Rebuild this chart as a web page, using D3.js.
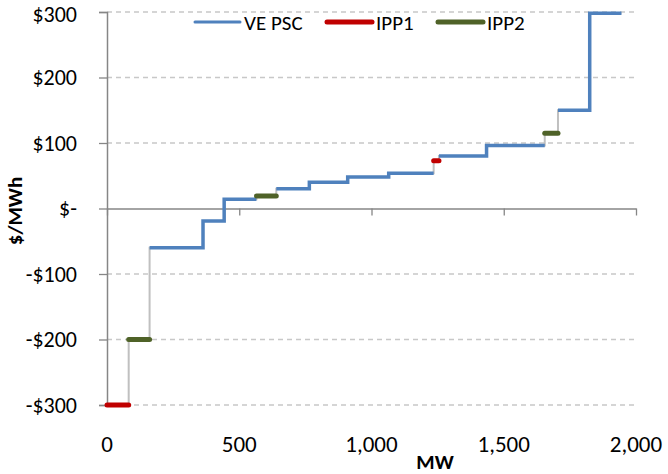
<!DOCTYPE html>
<html>
<head>
<meta charset="utf-8">
<script src="https://cdn.jsdelivr.net/npm/d3@7"></script>
<style>
  html, body { margin: 0; padding: 0; background: #fff; }
  svg { display: block; font-family: Calibri, Carlito, "Open Sans", sans-serif; }
</style>
</head>
<body>
<svg id="chart" width="668" height="474"></svg>
<script>
// Supply blocks in merit order: owner, cumulative MW at block end, offer price ($/MWh)
const owners = ["VE PSC", "IPP1", "IPP2"];
const ownerColors = ["#4f81bd", "#c00000", "#4f6228"];
const blockOwner = ["IPP1", "IPP2", "VE PSC", "VE PSC", "VE PSC", "IPP2", "VE PSC", "VE PSC",
                    "VE PSC", "VE PSC", "IPP1", "VE PSC", "VE PSC", "IPP2", "VE PSC", "VE PSC"];
const blockEndMW = [82, 161, 363, 443, 565, 640, 765, 910, 1065, 1235, 1255, 1435, 1655, 1705, 1825, 1945];
const blockPrice = [-300, -200, -60, -19, 14, 19, 30, 40, 48, 54, 73, 80, 96, 115, 150, 298];

const xTicks = [0, 500, 1000, 1500, 2000];
const yTicks = [-300, -200, -100, 0, 100, 200, 300];
const xTickLabels = ["0", "500", "1,000", "1,500", "2,000"];
const yTickLabels = ["-$300", "-$200", "-$100", "$-", "$100", "$200", "$300"];

const svg = d3.select("#chart");
const plot = { left: 107, right: 636, top: 12, bottom: 405 };

const x = d3.scaleLinear().domain([0, 2000]).range([plot.left, plot.right]);
const y = d3.scaleLinear().domain([-300, 300]).range([plot.bottom, plot.top]);

const blocks = blockEndMW.map((end, i) => ({
  owner: blockOwner[i],
  start: i === 0 ? 0 : blockEndMW[i - 1],
  end: end,
  price: blockPrice[i]
}));

// Dashed horizontal gridlines
svg.append("g")
  .selectAll("line")
  .data(yTicks.filter(v => v !== 0))
  .join("line")
  .attr("x1", plot.left).attr("x2", plot.right)
  .attr("y1", d => y(d)).attr("y2", d => y(d))
  .attr("stroke", "#c8c8c8")
  .attr("stroke-width", 1.3)
  .attr("stroke-dasharray", "5,4");

// Y axis (left)
const yAxis = svg.append("g")
  .attr("transform", `translate(${plot.left},0)`)
  .call(d3.axisLeft(y).tickValues(yTicks).tickFormat((d, i) => yTickLabels[i]).tickSize(8).tickPadding(22));
yAxis.select(".domain").attr("stroke", "#868686").attr("stroke-width", 1.5);
yAxis.selectAll(".tick line").attr("stroke", "#868686").attr("stroke-width", 1.3);
yAxis.selectAll(".tick text")
  .attr("fill", "#000").attr("font-size", 22)
  .attr("font-family", "Calibri, Carlito, 'Open Sans', sans-serif");
// keep the topmost label inside the canvas
yAxis.selectAll(".tick text").filter(d => d === 300).attr("dy", "0.45em");

// X axis line crossing at $0, tick labels at the bottom
const xAxis = svg.append("g")
  .attr("transform", `translate(0,${y(0)})`)
  .call(d3.axisBottom(x).tickValues(xTicks).tickFormat("").tickSize(7).tickSizeOuter(0));
xAxis.select(".domain").attr("stroke", "#868686").attr("stroke-width", 1.5);
xAxis.selectAll(".tick line").attr("stroke", "#868686").attr("stroke-width", 1.3);

svg.append("g")
  .selectAll("text")
  .data(xTicks)
  .join("text")
  .attr("x", d => x(d))
  .attr("y", 452)
  .attr("text-anchor", "middle")
  .attr("font-size", 23)
  .attr("fill", "#000")
  .text((d, i) => xTickLabels[i]);

// Axis titles
svg.append("text")
  .attr("x", 435).attr("y", 469)
  .attr("text-anchor", "middle")
  .attr("font-size", 21).attr("font-weight", "bold")
  .text("MW");
svg.append("text")
  .attr("transform", `translate(22,211) rotate(-90)`)
  .attr("text-anchor", "middle")
  .attr("font-size", 21).attr("font-weight", "bold")
  .text("$/MWh");

// Thin grey line tracing the full supply stack
const stackPoints = [];
blocks.forEach(b => {
  stackPoints.push([b.start, b.price]);
  stackPoints.push([b.end, b.price]);
});
const line = d3.line().x(d => x(d[0])).y(d => y(d[1]));
svg.append("path")
  .attr("d", line(stackPoints))
  .attr("fill", "none")
  .attr("stroke", "#c0c0c0")
  .attr("stroke-width", 2);

// Owner-coloured segments: consecutive blocks of one owner join into one stepped run
function runsFor(owner) {
  const runs = [];
  let current = null;
  blocks.forEach(b => {
    if (b.owner === owner) {
      if (!current) { current = []; runs.push(current); }
      current.push([b.start, b.price], [b.end, b.price]);
    } else {
      current = null;
    }
  });
  return runs;
}

owners.forEach((owner, i) => {
  const isMain = owner === "VE PSC";
  svg.append("g")
    .selectAll("path")
    .data(runsFor(owner))
    .join("path")
    .attr("d", d => line(d))
    .attr("fill", "none")
    .attr("stroke", ownerColors[i])
    .attr("stroke-width", isMain ? 3.5 : 5)
    .attr("stroke-linecap", isMain ? "butt" : "round")
    .attr("stroke-linejoin", "miter");
});

// Legend
const legendX = [195, 327, 438];
const legend = svg.append("g");
owners.forEach((owner, i) => {
  const isMain = owner === "VE PSC";
  legend.append("line")
    .attr("x1", legendX[i]).attr("x2", legendX[i] + 45)
    .attr("y1", 22).attr("y2", 22)
    .attr("stroke", ownerColors[i])
    .attr("stroke-width", isMain ? 3 : 5)
    .attr("stroke-linecap", "round");
  legend.append("text")
    .attr("x", legendX[i] + 49).attr("y", 29.5)
    .attr("font-size", 21)
    .attr("fill", "#000")
    .text(owner);
});
</script>
</body>
</html>
